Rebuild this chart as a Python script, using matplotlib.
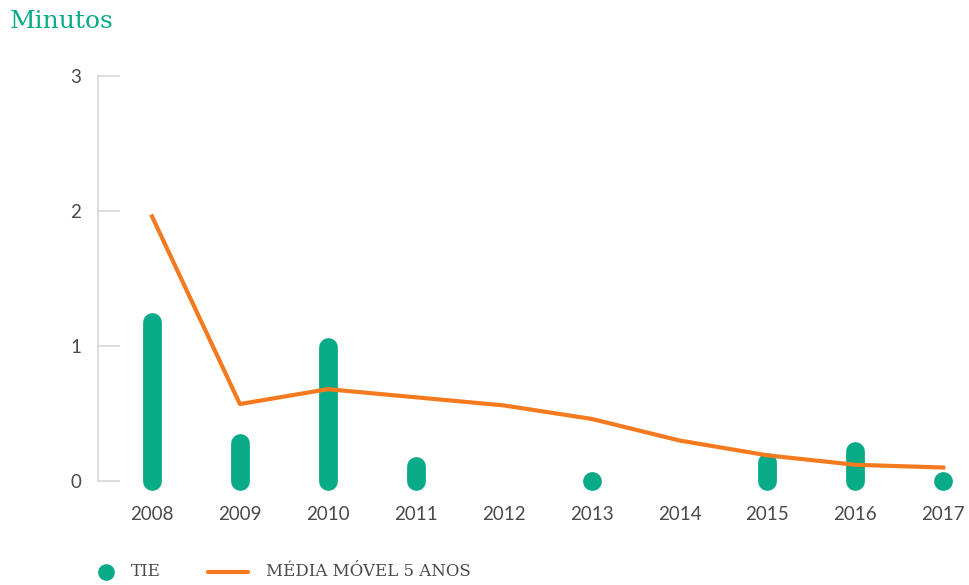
import numpy as np
import matplotlib.pyplot as plt
from matplotlib.lines import Line2D

# data
years = [2008, 2009, 2010, 2011, 2012, 2013, 2014, 2015, 2016, 2017]
tie = [1.18, 0.28, 0.99, 0.11, np.nan, 0.0, np.nan, 0.14, 0.22, 0.0]
media_movel = [1.96, 0.57, 0.68, 0.62, 0.56, 0.46, 0.30, 0.19, 0.12, 0.10]
yticks = [0, 1, 2, 3]

green = '#08AA87'
orange = '#F47A20'
grey_txt = '#4a4a4a'
grey_ax = '#D3D3D3'

fig = plt.figure(figsize=(9.69, 5.85), dpi=100)
ax = fig.add_axes([98/969, 104/585, 862/969, 405/585])

# bars with rounded caps, zero values as dots
for x, v in zip(years, tie):
    if np.isnan(v):
        continue
    if v > 0:
        ax.plot([x, x], [0, v], color=green, lw=13.5, solid_capstyle='round',
                clip_on=False, zorder=2)
    else:
        ax.plot([x], [0], 'o', color=green, ms=13.5, mec='none', clip_on=False, zorder=2)

ax.plot(years, media_movel, color=orange, lw=3, clip_on=False, zorder=3)

ax.set_xlim(2007.386, 2017.19)
ax.set_ylim(0, 3)
ax.set_xticks(years)
ax.set_yticks(yticks)

for s in ['top', 'right', 'bottom']:
    ax.spines[s].set_visible(False)
ax.spines['left'].set_color(grey_ax)
ax.spines['left'].set_linewidth(1.1)

ax.tick_params(axis='y', direction='in', length=16, width=1.1, color=grey_ax,
               pad=12, labelsize=13.5, labelcolor=grey_txt)
ax.tick_params(axis='x', length=0, pad=18, labelsize=13.5, labelcolor=grey_txt)
for lab in ax.get_xticklabels() + ax.get_yticklabels():
    lab.set_family('Lato')

fig.text(10/969, 1 - 21/585, 'Minutos', color=green, fontsize=18,
         family='DejaVu Serif', va='center', ha='left')

# legend
ly = 1 - 572/585
fig.add_artist(Line2D([106/969], [ly], marker='o', color=green, ms=12, mec='none',
                      transform=fig.transFigure))
fig.text(131/969, ly, 'TIE', color=grey_txt, fontsize=12, family='DejaVu Serif',
         va='center')
fig.add_artist(Line2D([208/969, 248/969], [ly, ly], color=orange, lw=3,
                      solid_capstyle='round', transform=fig.transFigure))
fig.text(266/969, ly, 'MÉDIA MÓVEL 5 ANOS', color=grey_txt, fontsize=12,
         family='DejaVu Serif', va='center')

plt.savefig('out.png', dpi=100)
